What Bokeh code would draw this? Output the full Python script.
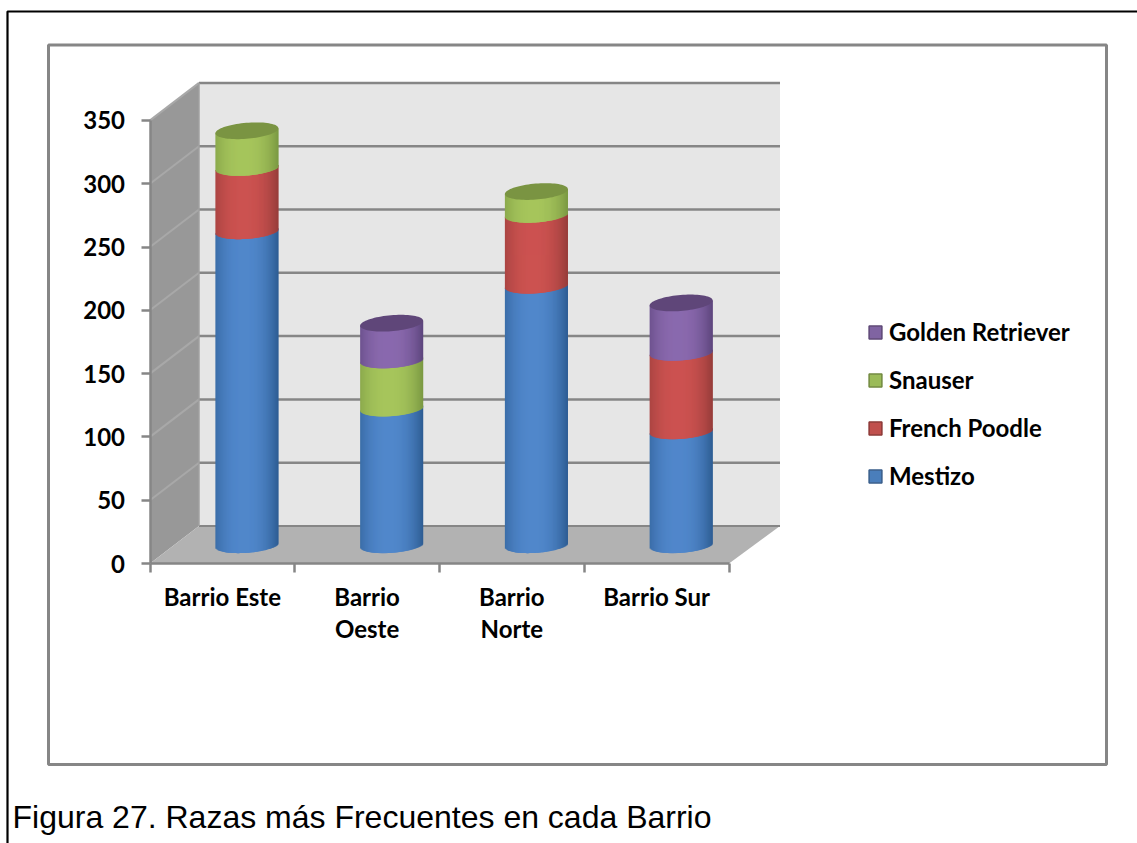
import numpy as np
from bokeh.plotting import figure
from bokeh.embed import file_html
from bokeh.resources import INLINE
from bokeh.models import Range1d, FixedTicker, Legend, LegendItem, Label

# ---------- data ----------
barrios = ["Barrio Este", "Barrio\nOeste", "Barrio\nNorte", "Barrio Sur"]
mestizo = [248, 108, 205, 90]
french_poodle = [50, 0, 56, 62]
snauser = [29, 38, 18, 0]
golden_retriever = [0, 29, 0, 39]
y_ticks = [0, 50, 100, 150, 200, 250, 300, 350]
caption = "Figura 27. Razas más Frecuentes en cada Barrio"

series = [
    ("Mestizo", mestizo, (80, 135, 203), (45, 92, 146), (74, 126, 187), (56, 93, 138)),
    ("French Poodle", french_poodle, (204, 82, 80), (150, 60, 58), (192, 80, 77), (140, 56, 54)),
    ("Snauser", snauser, (166, 197, 92), (122, 152, 66), (155, 187, 89), (113, 137, 63)),
    ("Golden Retriever", golden_retriever, (138, 105, 174), (92, 69, 124), (128, 100, 162), (93, 71, 118)),
]
cap_cols = {"Mestizo": "#3a6596", "French Poodle": "#963c3a", "Snauser": "#7a9442", "Golden Retriever": "#5f4679"}

# ---------- geometry ----------
W, H = 1137, 843
X0, UX = 149.5, 144.75   # px of x=0, px per category
Y0, UY = 563.0, 1.266    # px of y=0, px per unit
DX = 49 / UX             # depth of the 3-D box, data units
DXR = 51 / UX            # the right side of the box recedes a little further
DY = 37.5 / UY
BAR_W = 63 / UX
ARC = 8.0 / UY
TILT = 2.5 / UY
TOP = y_ticks[-1]
N = len(barrios)

def fx(px):
    return (px - X0) / UX

def fy(py):
    return (Y0 - py) / UY

p = figure(width=W, height=H, output_backend="svg", toolbar_location=None,
           x_range=Range1d(fx(0), fx(W)), y_range=Range1d(fy(H), fy(0)),
           min_border=0, min_border_left=0, min_border_right=0, min_border_top=0, min_border_bottom=0,
           outline_line_color=None, background_fill_color="white", tools="")
p.grid.visible = False

AX = "#868686"
# page frame and chart box
p.line([fx(1137), fx(7), fx(7)], [fy(11), fy(11), fy(843)], line_color="black", line_width=2.2)
p.quad(left=[fx(48)], right=[fx(1106)], top=[fy(44.5)], bottom=[fy(764)],
       fill_color="white", line_color=AX, line_width=3)

# 3-D box
p.patch([DX, DXR + N, DXR + N, DX], [DY, DY, TOP + DY, TOP + DY], fill_color="#e6e6e6", line_color=None)
p.patch([0, DX, DX, 0], [0, DY, TOP + DY, TOP], fill_color="#989898", line_color=None)
p.patch([0, N, N + DXR, DX], [0, 0, DY, DY], fill_color="#b2b2b2", line_color=None)
for v in y_ticks[1:]:
    p.line([0, DX], [v, v + DY], line_color="#a8a8a8", line_width=2)
    p.line([DX, DXR + N], [v + DY, v + DY], line_color=AX, line_width=2.5)
p.line([DX, DXR + N], [DY, DY], line_color=AX, line_width=2)
p.line([DX, DX], [DY, TOP + DY], line_color="#a0a0a0", line_width=1.5)

# stacked cylinders
S = 63
edges = np.linspace(-1, 1, S + 1)
ts = (edges[:-1] + edges[1:]) / 2
OVERLAP = 1.5 / UX

def shade(c_mid, c_edge, t):
    k = min(1.0, abs((t + 0.1) / 1.1)) ** 2.4
    r = [round(a + (b - a) * k) for a, b in zip(c_mid, c_edge)]
    return "#%02x%02x%02x" % tuple(r)

centers = np.arange(N) + 0.5 + DX / 2

# plain bars first: they carry the values and give the legend its swatches;
# the shaded strips drawn afterwards cover them completely
stack = np.zeros(N)
legend_items = {}
for name, vals, c_mid, c_edge, c_leg, c_leg_edge in series:
    vals = np.array(vals, dtype=float)
    mask = vals > 0
    legend_items[name] = p.vbar(x=centers[mask], bottom=(stack + DY / 2)[mask], top=(stack + vals + DY / 2)[mask],
                                width=BAR_W * 0.8, fill_color="#%02x%02x%02x" % c_leg,
                                line_color="#%02x%02x%02x" % c_leg_edge, line_width=1.5)
    stack = stack + vals

stack = np.zeros(N)
caps = {}
for name, vals, c_mid, c_edge, c_leg, c_leg_edge in series:
    vals = np.array(vals, dtype=float)
    mask = vals > 0
    ls, rs, bs, tp, col = [], [], [], [], []
    for i in np.nonzero(mask)[0]:
        for j, t in enumerate(ts):
            ls.append(centers[i] + edges[j] * BAR_W / 2)
            right = centers[i] + edges[j + 1] * BAR_W / 2
            rs.append(min(right + OVERLAP, centers[i] + BAR_W / 2))
            bs.append(stack[i] + DY / 2 - ARC * np.sqrt(1 - t * t) + TILT * t)
            tp.append(stack[i] + vals[i] + DY / 2 + TILT * t)
            col.append(shade(c_mid, c_edge, t))
    p.quad(left=ls, right=rs, bottom=bs, top=tp, fill_color=col, line_color=None)
    stack = stack + vals
    for i in np.nonzero(mask)[0]:
        caps[i] = (stack[i], name)

th = np.linspace(0, 2 * np.pi, 80)
for i, (v, name) in caps.items():
    p.patch(centers[i] + np.cos(th) * BAR_W / 2,
            v + DY / 2 + TILT * np.cos(th) + ARC * np.sin(th),
            fill_color=cap_cols[name], line_color=None)

# axes
FONT = "Lato"
p.xaxis.fixed_location = 0
p.yaxis.fixed_location = 0
ya, xa = p.yaxis[0], p.xaxis[0]
ya.bounds = (0, TOP)
xa.bounds = (0, N)
ya.ticker = FixedTicker(ticks=y_ticks)
xa.ticker = FixedTicker(ticks=[i + 0.5 for i in range(N)], minor_ticks=list(range(N + 1)))
xa.major_label_overrides = {i + 0.5: b for i, b in enumerate(barrios)}
for a in (xa, ya):
    a.axis_line_color = AX
    a.axis_line_width = 2.5
    a.major_tick_line_color = AX
    a.minor_tick_line_color = AX
    a.major_tick_line_width = 2.5
    a.minor_tick_line_width = 2.5
    a.major_label_text_font = FONT
    a.major_label_text_font_size = "24px"
    a.major_label_text_font_style = "bold"
    a.major_label_text_color = "black"
ya.major_tick_out = 9
ya.major_tick_in = 0
ya.minor_tick_out = 0
ya.minor_tick_in = 0
ya.major_label_standoff = 16
xa.major_tick_out = 0
xa.major_tick_in = 0
xa.minor_tick_out = 9
xa.minor_tick_in = 0
xa.major_label_standoff = 9
xa.major_label_text_line_height = 1.13

# legend
order = ["Golden Retriever", "Snauser", "French Poodle", "Mestizo"]
leg = Legend(items=[LegendItem(label=n, renderers=[legend_items[n]]) for n in order],
             location=(867, 843 - 490), orientation="vertical",
             background_fill_alpha=0, border_line_color=None, margin=0, padding=0,
             glyph_width=16, glyph_height=16, label_standoff=6, spacing=19,
             label_text_font=FONT, label_text_font_size="24px", label_text_font_style="bold",
             label_text_color="black", label_height=28)
p.add_layout(leg)

# caption
p.add_layout(Label(x=12, y=27, x_units="screen", y_units="screen", text=caption,
                   text_font="Liberation Sans", text_font_size="32px", text_color="black",
                   text_baseline="alphabetic", text_align="left"))

open("out.html", "w").write(file_html(p, INLINE))
